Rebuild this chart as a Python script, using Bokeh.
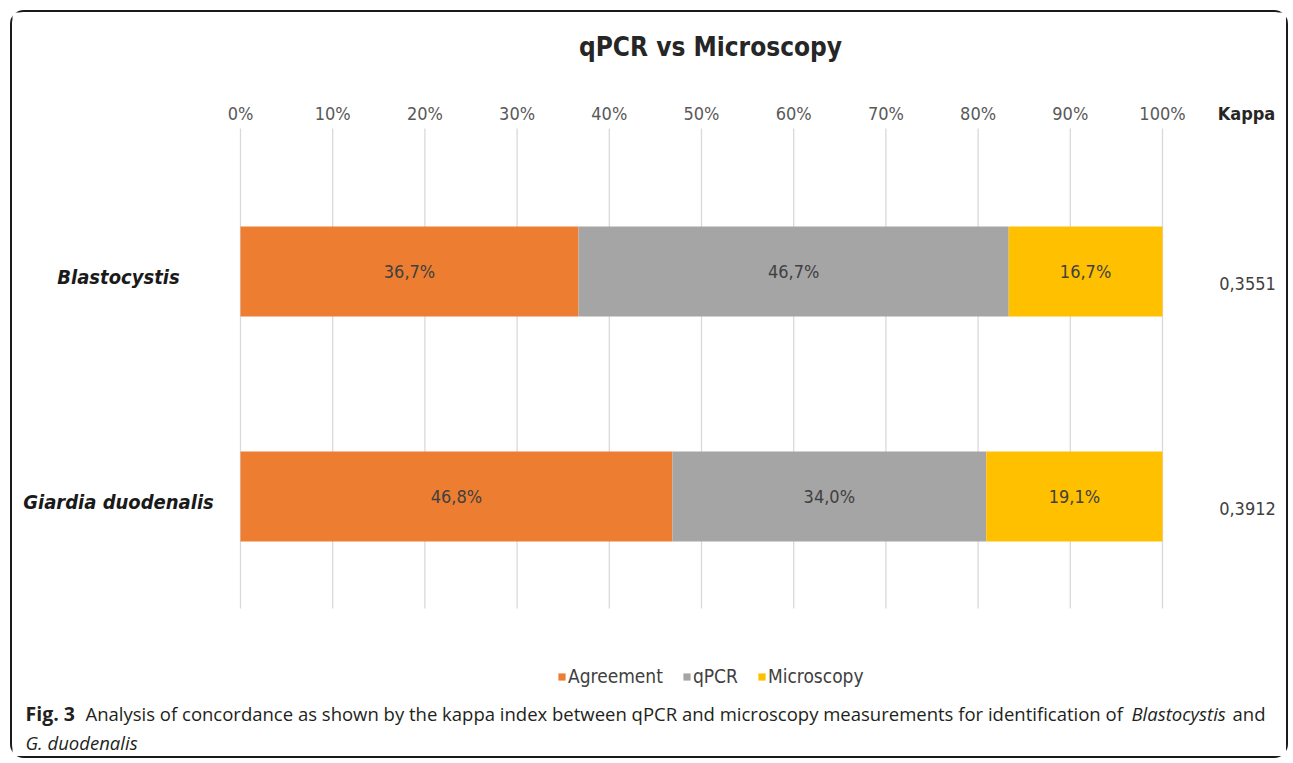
from bokeh.plotting import figure
from bokeh.models import Range1d, Legend, LegendItem, ColumnDataSource
from bokeh.core.properties import value
from bokeh.embed import file_html
from bokeh.resources import INLINE

# ---------------- data ----------------
chart_title = "qPCR vs Microscopy"
species = ["Blastocystis", "Giardia duodenalis"]
series = ["Agreement", "qPCR", "Microscopy"]
agreement = [36.7, 46.8]
qpcr = [46.7, 34.0]
microscopy = [16.7, 19.1]
kappa_header = "Kappa"
kappa = ["0,3551", "0,3912"]
x_ticks = [0, 10, 20, 30, 40, 50, 60, 70, 80, 90, 100]
x_tick_labels = ["0%", "10%", "20%", "30%", "40%", "50%", "60%", "70%", "80%", "90%", "100%"]
colors = ["#ED7D31", "#A5A5A5", "#FFC000"]
caption_bold = "Fig. 3"
caption_regular = "Analysis of concordance as shown by the kappa index between qPCR and microscopy measurements for identification of"
caption_italic1 = "Blastocystis"
caption_tail = "and"
caption_italic2 = "G. duodenalis"

# ---------------- layout helpers (image pixel -> data) ----------------
CHART_FONT = "'Liberation Sans Narrow', 'DejaVu Sans Condensed', sans-serif"
CAP_FONT = "'Open Sans', sans-serif"

W, H = 1278, 748
OFF_X, OFF_Y = 12, 12              # canvas origin in the image (margin + border)
X0_PX, X100_PX = 240, 1162         # image px of 0% and 100%
ROW_PX = 225.0                     # px between rows
ROW1_PX = 271.0                    # image y of row index 1 (Blastocystis)
GRID_T, GRID_B = 128, 608


def dx(px):
    return (px - X0_PX) / (X100_PX - X0_PX) * 100.0


def dy(py):
    return 1 + (ROW1_PX - py) / ROW_PX


pos = [1, 0]  # Blastocystis on top

rows = []
for i in range(len(species)):
    tot = agreement[i] + qpcr[i] + microscopy[i]
    rows.append([agreement[i] / tot * 100, qpcr[i] / tot * 100, microscopy[i] / tot * 100])

src = ColumnDataSource(dict(
    pos=pos,
    Agreement=[r[0] for r in rows],
    qPCR=[r[1] for r in rows],
    Microscopy=[r[2] for r in rows],
))

p = figure(width=W, height=H, output_backend="svg", toolbar_location=None,
           x_range=Range1d(dx(OFF_X), dx(OFF_X + W)),
           y_range=Range1d(dy(OFF_Y + H), dy(OFF_Y)),
           x_axis_location=None, y_axis_location=None,
           min_border=0)
p.styles = {"border": "2px solid #1a1a1a", "border-radius": "14px",
            "margin-left": "10px", "margin-top": "10px"}
p.outline_line_color = None
p.grid.visible = False
p.background_fill_color = "white"
p.border_fill_color = "white"

# vertical grid lines at the tick positions
p.segment(x0=x_ticks, x1=x_ticks, y0=dy(GRID_B), y1=dy(GRID_T),
          line_color="#D9D9D9", line_width=1.3)

# tick labels on top
p.text(x=x_ticks, y=[dy(113)] * len(x_ticks), text=x_tick_labels, text_align="center",
       text_baseline="middle", text_font=value(CHART_FONT), text_font_size="18px",
       text_color="#595959")

bars = p.hbar_stack(series, y="pos", height=90 / ROW_PX, color=colors,
                    line_color=None, source=src)

# labels inside segments
lx, ly, lt = [], [], []
for i in range(len(species)):
    raw = [agreement[i], qpcr[i], microscopy[i]]
    start = 0.0
    for j, w in enumerate(rows[i]):
        lx.append(start + w / 2)
        ly.append(pos[i])
        lt.append(f"{raw[j]:.1f}".replace(".", ",") + "%")
        start += w
p.text(x=lx, y=ly, text=lt, text_align="center", text_baseline="middle",
       text_font=value(CHART_FONT), text_font_size="18px", text_color="#404040")

# title
p.text(x=[dx(710)], y=[dy(46)], text=[chart_title], text_align="center",
       text_baseline="middle", text_font=value(CHART_FONT), text_font_size="26px",
       text_font_style="bold", text_color="#262626")

# category labels
p.text(x=[dx(118)] * len(species), y=[v - 5 / ROW_PX for v in pos], text=species,
       text_align="center", text_baseline="middle", text_font=value(CHART_FONT),
       text_font_size="20px", text_font_style="bold italic", text_color="#1a1a1a")

# kappa column
p.text(x=[dx(1246)], y=[dy(113)], text=[kappa_header], text_align="center",
       text_baseline="middle", text_font=value(CHART_FONT), text_font_size="18px",
       text_font_style="bold", text_color="#262626")
p.text(x=[dx(1247)] * len(kappa), y=[v - 12 / ROW_PX for v in pos], text=kappa,
       text_align="center", text_baseline="middle", text_font=value(CHART_FONT),
       text_font_size="18px", text_color="#404040")

# legend (screen offsets from the frame's bottom-left corner)
legend = Legend(items=[LegendItem(label=s, renderers=[r]) for s, r in zip(series, bars)],
                orientation="horizontal", location=(557 - OFF_X, (OFF_Y + H) - 687),
                glyph_width=9, glyph_height=9,
                label_text_font=CHART_FONT, label_text_font_size="19px",
                label_text_color="#404040", spacing=19, label_standoff=2, label_height=20,
                border_line_alpha=0, background_fill_alpha=0, padding=0, margin=0)
p.add_layout(legend, "center")

# caption
cy1, cy2 = dy(713), dy(742)
cap = dict(text_align="left", text_baseline="middle", text_font=value(CAP_FONT),
           text_color="#231f20")
p.text(x=[dx(25)], y=[cy1], text=[caption_bold], text_font_style="bold",
       text_font_size="19.5px", **cap)
p.text(x=[dx(85)], y=[cy1], text=[caption_regular], text_font_size="18.5px", **cap)
p.text(x=[dx(1131)], y=[cy1], text=[caption_italic1], text_font_style="italic",
       text_font_size="18.5px", **cap)
p.text(x=[dx(1232)], y=[cy1], text=[caption_tail], text_font_size="18.5px", **cap)
p.text(x=[dx(25)], y=[cy2], text=[caption_italic2], text_font_style="italic",
       text_font_size="18.5px", **cap)

open("out.html", "w").write(file_html(p, INLINE))
